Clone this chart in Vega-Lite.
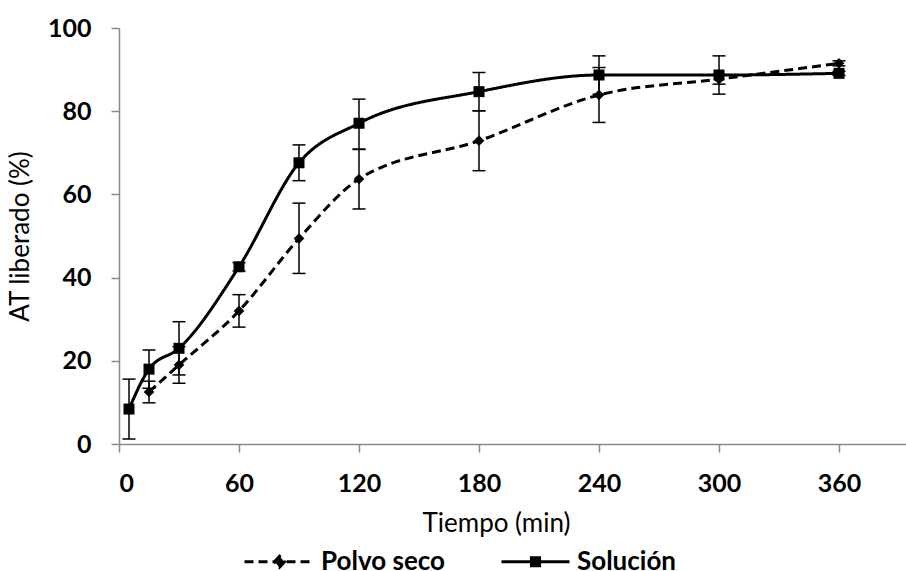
{
  "$schema": "https://vega.github.io/schema/vega-lite/v6.json",
  "width": 787,
  "height": 416,
  "autosize": {"type": "none"},
  "padding": {"left": 119, "top": 28, "right": 0, "bottom": 127},
  "background": "white",
  "config": {
    "view": {"stroke": null},
    "font": "Lato",
    "axis": {
      "grid": false,
      "domainColor": "#898989",
      "domainWidth": 1.5,
      "tickColor": "#898989",
      "tickWidth": 1.5,
      "tickSize": 8,
      "labelFont": "Lato",
      "labelFontSize": 25,
      "labelFontWeight": "bold",
      "labelColor": "black",
      "titleFont": "Lato",
      "titleFontSize": 26,
      "titleFontWeight": "normal",
      "titleColor": "black"
    }
  },
  "data": {
    "values": [
      {"series": "Polvo seco", "t": 15, "y": 12.5, "lo": 9.9, "hi": 15.1},
      {"series": "Polvo seco", "t": 30, "y": 19.0, "lo": 14.6, "hi": 23.4},
      {"series": "Polvo seco", "t": 60, "y": 32.0, "lo": 28.1, "hi": 35.9},
      {"series": "Polvo seco", "t": 90, "y": 49.4, "lo": 41.0, "hi": 57.9},
      {"series": "Polvo seco", "t": 120, "y": 63.7, "lo": 56.5, "hi": 70.9},
      {"series": "Polvo seco", "t": 180, "y": 72.9, "lo": 65.7, "hi": 80.1},
      {"series": "Polvo seco", "t": 240, "y": 83.9, "lo": 77.3, "hi": 90.5},
      {"series": "Polvo seco", "t": 300, "y": 87.7, "lo": 86.5, "hi": 88.9},
      {"series": "Polvo seco", "t": 360, "y": 91.5, "lo": 90.9, "hi": 92.1},
      {"series": "Solución", "t": 5, "y": 8.4, "lo": 1.2, "hi": 15.6},
      {"series": "Solución", "t": 15, "y": 18.0, "lo": 13.4, "hi": 22.6},
      {"series": "Solución", "t": 30, "y": 23.0, "lo": 16.6, "hi": 29.4},
      {"series": "Solución", "t": 60, "y": 42.6, "lo": 41.6, "hi": 43.6},
      {"series": "Solución", "t": 90, "y": 67.6, "lo": 63.3, "hi": 71.9},
      {"series": "Solución", "t": 120, "y": 77.1, "lo": 70.8, "hi": 82.9},
      {"series": "Solución", "t": 180, "y": 84.7, "lo": 80.1, "hi": 89.3},
      {"series": "Solución", "t": 240, "y": 88.7, "lo": 84.1, "hi": 93.3},
      {"series": "Solución", "t": 300, "y": 88.7, "lo": 84.1, "hi": 93.3},
      {"series": "Solución", "t": 360, "y": 89.1, "lo": 88.6, "hi": 89.6}
    ]
  },
  "encoding": {
    "x": {
      "field": "t",
      "type": "quantitative",
      "scale": {"domain": [0, 393.5], "nice": false, "zero": false},
      "axis": {
        "values": [0, 60, 120, 180, 240, 300, 360],
        "title": "Tiempo (min)",
        "labelPadding": 19,
        "titlePadding": 14,
        "titleX": 377
      }
    }
  },
  "layer": [
    {
      "mark": {"type": "line", "interpolate": "monotone", "color": "black", "strokeWidth": 3},
      "encoding": {
        "y": {
          "field": "y",
          "type": "quantitative",
          "scale": {"domain": [0, 100], "nice": false},
          "axis": {
            "values": [0, 20, 40, 60, 80, 100],
            "title": "AT liberado (%)",
            "labelPadding": 20,
            "titlePadding": 14
          }
        },
        "strokeDash": {
          "field": "series",
          "type": "nominal",
          "scale": {"domain": ["Polvo seco", "Solución"], "range": [[9, 5], [1, 0]]},
          "legend": {
            "title": null,
            "orient": "none",
            "direction": "horizontal",
            "legendX": 144,
            "legendY": 517,
            "symbolSize": 900,
            "symbolStrokeWidth": 3,
            "symbolStrokeColor": "black",
            "labelFont": "Lato",
            "labelFontSize": 26,
            "labelFontWeight": "bold",
            "labelColor": "black",
            "labelOffset": 25,
            "columnPadding": 50,
            "encode": {
              "symbols": {
                "update": {
                  "shape": {"signal": "datum.value === 'Polvo seco' ? 'M-2.333,0H2.333M-0.333,0L0,-0.373L0.333,0L0,0.373Z' : 'M-2.267,0H2.267M-0.27,-0.27H0.27V0.27H-0.27Z'"},
                  "fill": {"value": "black"},
                  "stroke": {"value": "black"},
                  "strokeWidth": {"value": 3}
                }
              }
            }
          }
        }
      }
    },
    {
      "mark": {"type": "rule", "color": "black", "strokeWidth": 1.5},
      "encoding": {
        "y": {"field": "lo", "type": "quantitative"},
        "y2": {"field": "hi"}
      }
    },
    {
      "mark": {"type": "tick", "orient": "horizontal", "color": "black", "size": 13, "thickness": 1.5, "opacity": 1},
      "encoding": {
        "y": {"field": "lo", "type": "quantitative"}
      }
    },
    {
      "mark": {"type": "tick", "orient": "horizontal", "color": "black", "size": 13, "thickness": 1.5, "opacity": 1},
      "encoding": {
        "y": {"field": "hi", "type": "quantitative"}
      }
    },
    {
      "transform": [{"filter": "datum.series === 'Polvo seco'"}],
      "mark": {"type": "point", "shape": "diamond", "filled": true, "color": "black", "opacity": 1, "size": 115},
      "encoding": {
        "y": {"field": "y", "type": "quantitative"}
      }
    },
    {
      "transform": [{"filter": "datum.series === 'Solución'"}],
      "mark": {"type": "point", "shape": "square", "filled": true, "color": "black", "opacity": 1, "size": 121},
      "encoding": {
        "y": {"field": "y", "type": "quantitative"}
      }
    }
  ]
}
